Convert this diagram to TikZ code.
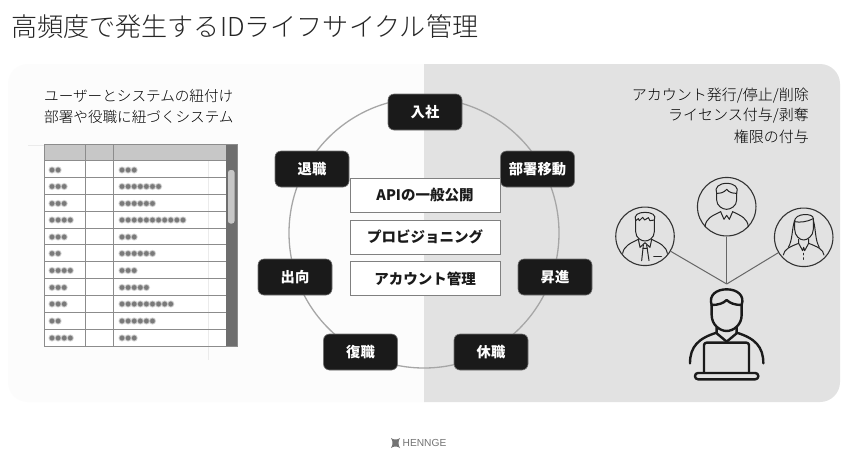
\documentclass[tikz,border=0pt]{standalone}
\usepackage{fontspec}
\setmainfont{Noto Sans CJK JP}
\newfontfamily\lightfont{Noto Sans CJK JP Light}
\newfontfamily\latinfont{Liberation Sans}
\newcommand{\fs}[1]{\fontsize{#1pt}{#1pt}\selectfont}
\definecolor{panel}{HTML}{E2E2E2}
\definecolor{ink}{HTML}{1A1A1A}
\tikzset{
  stage/.style={draw=black!55,line width=.6pt,fill=ink,rounded corners=6pt,minimum width=74pt,minimum height=36pt,inner sep=0pt,text=white,font=\fs{14.3}\bfseries},
  task/.style={draw=black!50,line width=.8pt,fill=white,minimum width=150pt,minimum height=34pt,inner sep=0pt,text=ink,font=\fs{14.5}\bfseries},
  caption/.style={inner sep=0pt,text=black,font=\lightfont\fs{14.6}},
  captionr/.style={inner sep=0pt,text=black,font=\lightfont\fs{15}},
  usercircle/.style={circle,draw=black!80,line width=1.1pt,minimum size=58.5pt,inner sep=0pt},
  link/.style={draw=black!60,line width=1pt},
  grid/.style={draw=black!45,line width=1pt},
  blurout/.style={line cap=round,line width=7.4pt,draw=black!12,dash pattern=on 0pt off 6.1pt},
  blurmid/.style={line cap=round,line width=6pt,draw=black!30,dash pattern=on 0pt off 6.1pt},
  blurin/.style={line cap=round,line width=4.6pt,draw=black!52,dash pattern=on 0pt off 6.1pt},
  thin person/.style={draw=black!85,line width=1pt,line cap=round,line join=round},
  big person/.style={draw=ink,line width=2.4pt,line cap=round,line join=round},
}
\newcommand{\blurbar}[2]{%
  \draw[blurout] #1 -- ++(#2,0); \draw[blurmid] #1 -- ++(#2,0); \draw[blurin] #1 -- ++(#2,0);}
\newcommand{\blurrow}[3]{\blurbar{(52,#1)}{#2}\blurbar{(122,#1)}{#3}}
\begin{document}
\begin{tikzpicture}[x=1pt,y=-1pt]
\useasboundingbox (0,0) rectangle (850,456);
\fill[white] (0,0) rectangle (850,456);
% panels
\begin{scope}
\clip (0,0) rectangle (424,456);
\fill[black!1,rounded corners=20pt] (8,64) rectangle (600,402);
\end{scope}
\begin{scope}
\clip (424,0) rectangle (850,456);
\fill[panel,rounded corners=20pt] (200,64) rectangle (840,402);
\end{scope}
% title
\node[anchor=west,inner sep=0pt,text=black!85,font=\lightfont\fs{26.1}] (title) at (11,26.5) {高頻度で発生するIDライフサイクル管理};
% captions
\node[caption,anchor=west] (capa) at (44,95.5) {ユーザーとシステムの紐付け};
\node[caption,anchor=west] (capb) at (44,116.5) {部署や役職に紐づくシステム};
\node[captionr,anchor=east] (capc) at (809,95.5) {アカウント発行/停止/削除};
\node[captionr,anchor=east] (capd) at (809,116) {ライセンス付与/剥奪};
\node[captionr,anchor=east] (cape) at (809,136.5) {権限の付与};
% table
\draw[black!8,line width=.7pt] (28,145) -- (44,145) (208,160) -- (208,360);
\fill[white] (44,160) rectangle (226,346);
\fill[black!22] (44,144) rectangle (226,160);
\fill[black!57] (226,144) rectangle (237,346);
\fill[black!22,rounded corners=2.5pt] (228,170) rectangle (234.5,223.5);
\draw[black!8,line width=.7pt] (208,160) -- (208,346);
\foreach \yy in {160,177,194,211,228,244.5,261.5,278,295,312,329}{\draw[grid] (44,\yy) -- (226,\yy);}
\draw[grid] (44,144) rectangle (237,346);
\draw[grid] (85,144) -- (85,346) (113.5,144) -- (113.5,346);
\blurrow{170}{7}{13}
\blurrow{186.5}{13}{38}
\blurrow{203.5}{13}{32}
\blurrow{220}{19}{62}
\blurrow{237}{13}{13}
\blurrow{253.5}{7}{32}
\blurrow{270.5}{19}{13}
\blurrow{287.5}{13}{26}
\blurrow{304}{13}{50}
\blurrow{321}{7}{32}
\blurrow{338}{19}{13}
% cycle
\draw[black!35,line width=1.3pt] (424,233) circle[radius=135];
\node[stage] (join) at (425,112) {入社};
\node[stage] (leave) at (312,169) {退職};
\node[stage] (move) at (537.5,169) {部署移動};
\node[stage] (second) at (295,277) {出向};
\node[stage] (promo) at (555,277) {昇進};
\node[stage] (back) at (360.5,352) {復職};
\node[stage] (rest) at (491,352) {休職};
\node[task] (api) at (425,195) {APIの一般公開};
\node[task] (prov) at (425,237) {プロビジョニング};
\node[task] (acct) at (425,278.5) {アカウント管理};
% users and links
\node[usercircle] (ua) at (645,236.3) {};
\node[usercircle] (ub) at (726.7,206.7) {};
\node[usercircle] (uc) at (803.7,237.3) {};
\coordinate (hub) at (726.7,284);
\draw[link] (ua) -- (hub);
\draw[link] (ub) -- (hub);
\draw[link] (uc) -- (hub);
\begin{scope}[shift={(600,170)},x=.3333pt,y=-.3333pt]
% left user
\begin{scope}[thin person]
\draw (107,152) .. controls (100,135) and (115,127) .. (135,127) .. controls (155,127) and (170,135) .. (163,150);
\draw (107,152) -- (115,146) -- (118,152) -- (128,142) -- (134,150) -- (145,143) -- (150,152) -- (163,150);
\draw (107,152) -- (107,185) .. controls (107,205) and (125,213) .. (135,213) .. controls (145,213) and (163,205) .. (163,185) -- (163,150);
\draw (68,250) .. controls (72,228) and (90,220) .. (115,208) (202,250) .. controls (198,228) and (180,220) .. (155,208);
\draw (115,208) -- (120,232) -- (135,218) -- (150,232) -- (155,208);
\draw (130,225) -- (125,272) (140,225) -- (147,272) (128,235) -- (142,235);
\draw[line width=1.6pt] (162,260) -- (184,260);
% middle user
\draw (350,70) .. controls (342,52) and (358,40) .. (380,40) .. controls (402,40) and (418,52) .. (410,70);
\draw (350,70) .. controls (362,70) and (372,68) .. (380,58) .. controls (388,68) and (398,70) .. (410,70);
\draw (350,70) -- (350,90) .. controls (350,108) and (368,118) .. (380,118) .. controls (392,118) and (410,108) .. (410,90) -- (410,70);
\draw (315,170) .. controls (318,145) and (335,138) .. (362,125) (445,170) .. controls (442,145) and (425,138) .. (398,125);
\draw (362,125) -- (372,148) -- (380,136) -- (388,148) -- (398,125);
% right user
\draw (584,155) .. controls (582,128) and (642,128) .. (640,146);
\draw (584,155) .. controls (600,158) and (620,156) .. (640,146);
\draw (584,155) -- (584,178) .. controls (584,198) and (600,210) .. (611,210) .. controls (622,210) and (640,198) .. (640,178) -- (640,146);
\draw (584,150) .. controls (575,180) and (578,210) .. (565,232) (640,150) .. controls (648,180) and (645,210) .. (658,232);
\draw (550,255) .. controls (552,238) and (570,230) .. (596,220) (672,255) .. controls (670,238) and (652,230) .. (626,220);
\draw (596,208) -- (596,220) -- (608,242) -- (611,232) -- (614,242) -- (626,220) -- (626,208);
\draw[line width=1.3pt,dash pattern=on 1.5pt off 3pt] (611,250) -- (611,276);
\end{scope}
% main user
\begin{scope}[big person]
\draw (335,405) .. controls (325,375) and (350,358) .. (380,358) .. controls (410,358) and (435,375) .. (425,405);
\draw (335,405) .. controls (355,405) and (370,400) .. (380,390) .. controls (390,400) and (405,405) .. (425,405);
\draw (335,405) -- (335,435) .. controls (335,465) and (360,483) .. (380,483) .. controls (400,483) and (425,465) .. (425,435) -- (425,405);
\draw (350,472) -- (350,490) -- (380,515) -- (410,490) -- (410,472);
\draw (270,580) .. controls (270,530) and (295,505) .. (350,488) (490,580) .. controls (490,530) and (465,505) .. (410,488);
\draw[rounded corners=2.5pt,fill=panel] (312,609) -- (312,518) -- (447,518) -- (447,609);
\draw[rounded corners=3pt,fill=panel] (285,609) rectangle (475,628);
\end{scope}
\end{scope}
% logo
\fill[black!55] (391,438) .. controls (393,440) and (398,440) .. (400,438) .. controls (398,441) and (398,445) .. (400,448) .. controls (398,446) and (393,446) .. (391,448) .. controls (393,445) and (393,441) .. (391,438) -- cycle;
\node[anchor=west,inner sep=0pt,text=black!55,font=\latinfont\fs{10.2}] (logo) at (402.5,443) {HENNGE};
\end{tikzpicture}
\end{document}
